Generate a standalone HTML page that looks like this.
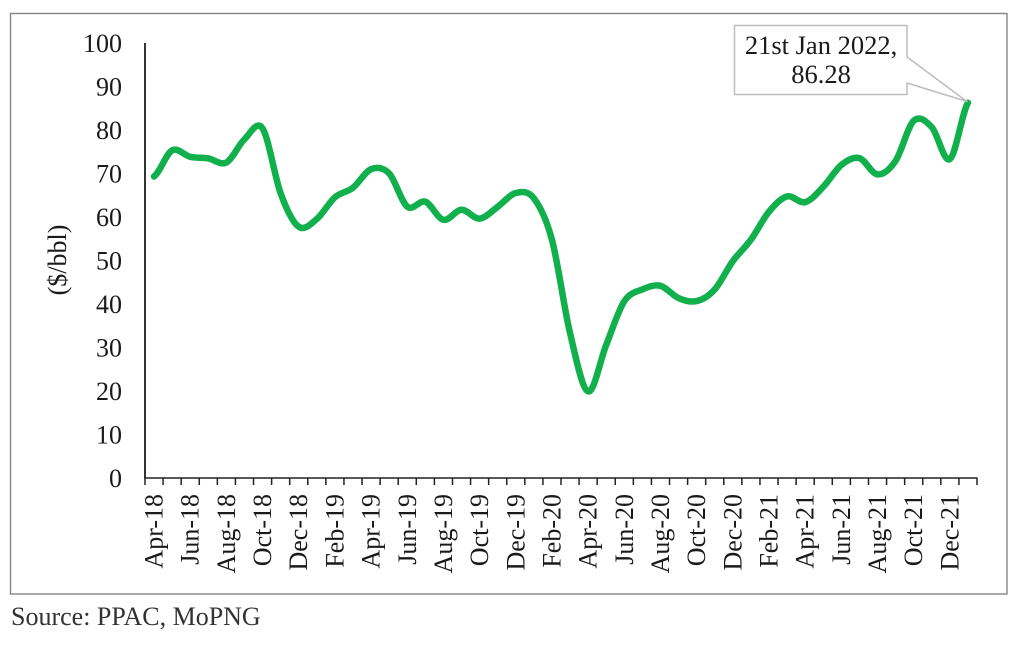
<!DOCTYPE html>
<html>
<head>
<meta charset="utf-8">
<style>
  html, body { margin: 0; padding: 0; background: #ffffff; }
  body { width: 1024px; height: 646px; overflow: hidden; }
  svg { display: block; }
  text { font-family: "Liberation Serif", "Times New Roman", serif; fill: #1a1a1a; }
</style>
</head>
<body>
<svg width="1024" height="646" viewBox="0 0 1024 646" xmlns="http://www.w3.org/2000/svg">
  <rect x="0" y="0" width="1024" height="646" fill="#ffffff"/>
  <rect x="10.5" y="13.5" width="996.5" height="580.5" fill="none" stroke="#858585" stroke-width="1.4"/>

  <line x1="145" y1="43" x2="145" y2="478.5" stroke="#000" stroke-width="1.6"/>
  <line x1="145" y1="478" x2="977.5" y2="478" stroke="#222" stroke-width="1.6"/>
  <line x1="144.25" y1="481.5" x2="978" y2="481.5" stroke="#222" stroke-width="7" stroke-dasharray="1.5 16.587"/>

  <g font-size="26" text-anchor="end">
    <text x="122" y="52">100</text>
    <text x="122" y="95.5">90</text>
    <text x="122" y="139">80</text>
    <text x="122" y="182.5">70</text>
    <text x="122" y="226">60</text>
    <text x="122" y="269.5">50</text>
    <text x="122" y="313">40</text>
    <text x="122" y="356.5">30</text>
    <text x="122" y="400">20</text>
    <text x="122" y="443.5">10</text>
    <text x="122" y="487">0</text>
  </g>

  <text font-size="26" text-anchor="middle" transform="translate(66,260) rotate(-90)">($/bbl)</text>

  <g font-size="26" text-anchor="end">
    <text transform="translate(162.5,494) rotate(-90)">Apr-18</text>
    <text transform="translate(198.7,494) rotate(-90)">Jun-18</text>
    <text transform="translate(234.9,494) rotate(-90)">Aug-18</text>
    <text transform="translate(271.1,494) rotate(-90)">Oct-18</text>
    <text transform="translate(307.2,494) rotate(-90)">Dec-18</text>
    <text transform="translate(343.4,494) rotate(-90)">Feb-19</text>
    <text transform="translate(379.6,494) rotate(-90)">Apr-19</text>
    <text transform="translate(415.8,494) rotate(-90)">Jun-19</text>
    <text transform="translate(451.9,494) rotate(-90)">Aug-19</text>
    <text transform="translate(488.1,494) rotate(-90)">Oct-19</text>
    <text transform="translate(524.3,494) rotate(-90)">Dec-19</text>
    <text transform="translate(560.5,494) rotate(-90)">Feb-20</text>
    <text transform="translate(596.6,494) rotate(-90)">Apr-20</text>
    <text transform="translate(632.8,494) rotate(-90)">Jun-20</text>
    <text transform="translate(669.0,494) rotate(-90)">Aug-20</text>
    <text transform="translate(705.2,494) rotate(-90)">Oct-20</text>
    <text transform="translate(741.3,494) rotate(-90)">Dec-20</text>
    <text transform="translate(777.5,494) rotate(-90)">Feb-21</text>
    <text transform="translate(813.7,494) rotate(-90)">Apr-21</text>
    <text transform="translate(849.9,494) rotate(-90)">Jun-21</text>
    <text transform="translate(886.0,494) rotate(-90)">Aug-21</text>
    <text transform="translate(922.2,494) rotate(-90)">Oct-21</text>
    <text transform="translate(958.4,494) rotate(-90)">Dec-21</text>
  </g>

  <path fill="none" stroke="#12b04d" stroke-width="6.5" stroke-linecap="round" stroke-linejoin="round" d="M154.0,176.5 C160.1,172.2 166.1,153.7 172.1,150.4 C178.1,147.1 184.2,155.5 190.2,156.8 C196.2,158.1 202.3,157.5 208.3,158.4 C214.3,159.4 220.4,165.7 226.4,162.5 C232.4,159.3 238.5,144.9 244.5,139.2 C250.5,133.5 256.6,119.5 262.6,128.5 C268.6,137.6 274.7,177.1 280.7,193.5 C286.7,209.9 292.7,222.5 298.7,226.7 C304.7,231.0 310.8,223.9 316.8,219.0 C322.8,214.1 328.9,202.5 334.9,197.3 C340.9,192.1 347.0,192.4 353.0,187.7 C359.0,183.0 365.1,171.6 371.1,169.2 C377.1,166.8 383.2,167.3 389.2,173.5 C395.2,179.8 401.3,202.0 407.3,206.7 C413.3,211.4 419.3,199.5 425.3,201.7 C431.3,203.9 437.4,218.5 443.4,219.8 C449.4,221.2 455.5,210.0 461.5,209.8 C467.5,209.6 473.6,219.1 479.6,218.6 C485.6,218.1 491.7,211.1 497.7,206.8 C503.7,202.5 509.8,194.4 515.8,193.0 C521.8,191.6 527.9,190.5 533.9,198.3 C539.9,206.1 546.0,217.6 552.0,240.0 C558.0,262.4 564.0,307.7 570.0,332.9 C576.0,358.1 582.1,389.4 588.1,391.4 C594.1,393.4 600.2,359.9 606.2,344.9 C612.2,329.9 618.3,310.6 624.3,301.3 C630.3,292.1 636.4,292.0 642.4,289.4 C648.4,286.8 654.5,284.4 660.5,285.8 C666.5,287.3 672.6,295.6 678.6,298.1 C684.6,300.7 690.7,302.5 696.7,301.1 C702.7,299.7 708.7,296.2 714.7,289.5 C720.7,282.9 726.8,269.5 732.8,261.2 C738.8,252.9 744.9,248.0 750.9,239.7 C756.9,231.5 763.0,218.9 769.0,211.7 C775.0,204.5 781.1,198.0 787.1,196.4 C793.1,194.8 799.2,203.8 805.2,202.2 C811.2,200.6 817.3,193.0 823.3,186.8 C829.3,180.6 835.4,169.7 841.4,164.9 C847.4,160.1 853.4,156.5 859.4,158.1 C865.4,159.7 871.5,174.0 877.5,174.4 C883.5,174.9 889.6,169.7 895.6,160.8 C901.6,151.9 907.7,126.4 913.7,120.8 C919.7,115.2 925.8,120.8 931.8,127.2 C937.8,133.6 943.9,163.2 949.9,159.1 C955.9,155.0 962.0,112.1 968.0,102.7"/>

  <path d="M734.5,25.5 H907 V57 L967,101.5 L907,83 V94.5 H734.5 Z" fill="#ffffff" stroke="#bdbdbd" stroke-width="1.5" stroke-linejoin="round"/>
  <g font-size="26.5" text-anchor="middle">
    <text x="821" y="54">21st Jan 2022,</text>
    <text x="821" y="83">86.28</text>
  </g>

  <text x="11" y="625" font-size="26" style="fill:#333333">Source: PPAC, MoPNG</text>
</svg>
</body>
</html>
